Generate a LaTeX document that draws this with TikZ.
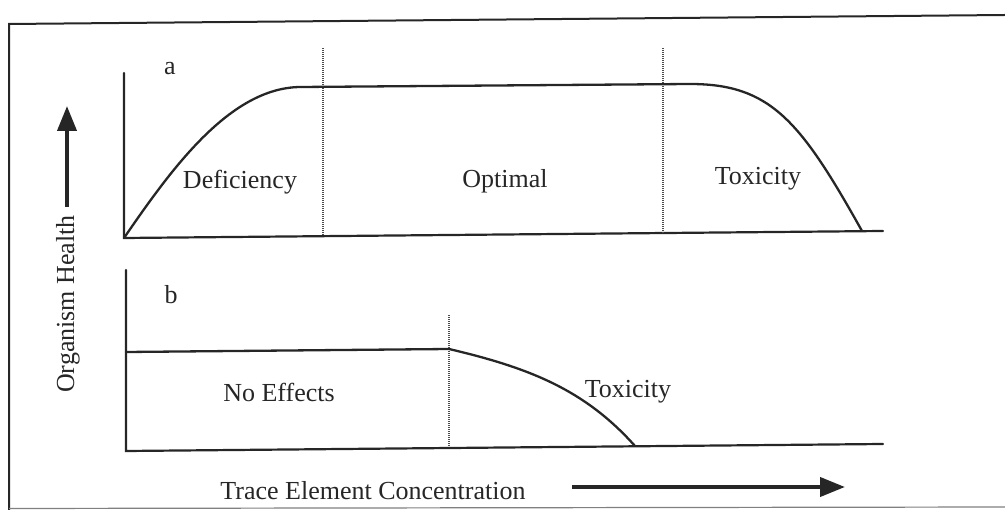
\documentclass[tikz,border=0pt]{standalone}
\usepackage{fontspec}
\setmainfont{Liberation Serif}
\usetikzlibrary{arrows.meta}
\begin{document}
\begin{tikzpicture}[x=1pt,y=-1pt,
  axis/.style={line width=2.2pt,line cap=round,black!85},
  curve/.style={line width=2.3pt,line cap=round,black!85},
  divider/.style={line width=1.5pt,dash pattern=on 1pt off 1pt,gray!60!black},
  lbl/.style={font=\fontsize{26}{31}\selectfont,anchor=base,inner sep=0pt,text=black!85},
  bigarrow/.style={line width=4pt,black!85,-{Triangle[length=25pt,width=19pt]}},
  frame/.style={line width=2pt,black!85}]
\useasboundingbox (0,0) rectangle (1005,510);
% frame
\coordinate (fTL) at (9,24);
\coordinate (fTR) at (1005,15);
\coordinate (fBL) at (9,510);
\coordinate (fBR) at (1005,507);
\draw[frame] (fBL) -- (fTL) -- (fTR);
\draw[line width=1.2pt,gray] (9,508.5) -- (fBR);
% panel a
\coordinate (aO) at (124,238);
\coordinate (aY) at (124,73);
\coordinate (aX) at (883,231);
\draw[axis] (aY) -- (aO) -- (aX);
\coordinate (d1t) at (323,48);
\coordinate (d1b) at (323,236);
\coordinate (d2t) at (663,48);
\coordinate (d2b) at (663,233);
\draw[divider] (d1t) -- (d1b);
\draw[divider] (d2t) -- (d2b);
\coordinate (aEnd) at (862,231);
\draw[curve] (aO) .. controls (172,168) and (230,88) .. (300,87)
  -- (690,84) .. controls (770,84) and (800,120) .. (aEnd);
\node[lbl] (la) at (170,75) {a};
\node[lbl] (def) at (240,189) {Deficiency};
\node[lbl] (opt) at (505,188) {Optimal};
\node[lbl] (tox1) at (758,185) {Toxicity};
% panel b
\coordinate (bO) at (126,451);
\coordinate (bY) at (126,270);
\coordinate (bX) at (883,444);
\draw[axis] (bY) -- (bO) -- (bX);
\coordinate (d3t) at (449,315);
\coordinate (d3b) at (449,446);
\draw[divider] (d3t) -- (d3b);
\coordinate (bEnd) at (635,446);
\draw[curve] (126,352) -- (449,349) .. controls (530,368) and (585,390) .. (bEnd);
\node[lbl] (lb) at (171,304) {b};
\node[lbl] (noeff) at (279,402) {No Effects};
\node[lbl] (tox2) at (628,398) {Toxicity};
% axis titles
\node[lbl] (xt) at (373,500) {Trace Element Concentration};
\coordinate (xaS) at (572,487);
\coordinate (xaE) at (845,487);
\draw[bigarrow] (xaS) -- (xaE);
\node[lbl,rotate=90] (yt) at (74,304) {Organism Health};
\coordinate (yaS) at (67,207);
\coordinate (yaE) at (67,106);
\draw[bigarrow] (yaS) -- (yaE);
\end{tikzpicture}
\end{document}
